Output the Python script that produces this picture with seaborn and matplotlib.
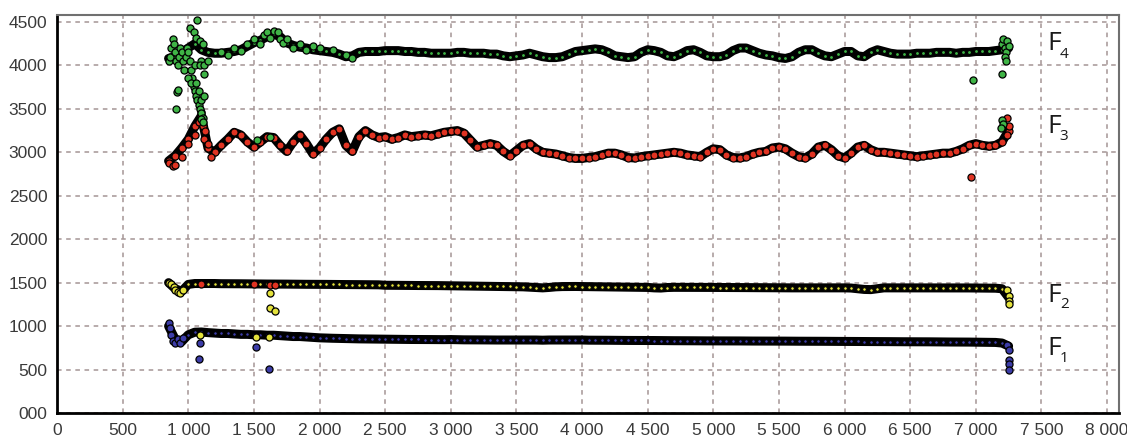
import matplotlib
matplotlib.use("Agg")
import matplotlib.pyplot as plt
from matplotlib.ticker import MultipleLocator, FuncFormatter
import seaborn as sns
import pandas as pd

# ---------------- data ----------------
frame_ms = [850, 900, 950, 1000, 1050, 1100, 1150, 1200, 1250, 1300, 1350, 1400, 1450,
            1500, 1550, 1600, 1650, 1700, 1750, 1800, 1850, 1900, 1950, 2000, 2050, 2100,
            2150, 2200, 2250, 2300, 2350, 2400, 2450, 2500, 2550, 2600, 2650, 2700, 2750,
            2800, 2850, 2900, 2950, 3000, 3050, 3100, 3150, 3200, 3250, 3300, 3350, 3400,
            3450, 3500, 3550, 3600, 3650, 3700, 3750, 3800, 3850, 3900, 3950, 4000, 4050,
            4100, 4150, 4200, 4250, 4300, 4350, 4400, 4450, 4500, 4550, 4600, 4650, 4700,
            4750, 4800, 4850, 4900, 4950, 5000, 5050, 5100, 5150, 5200, 5250, 5300, 5350,
            5400, 5450, 5500, 5550, 5600, 5650, 5700, 5750, 5800, 5850, 5900, 5950, 6000,
            6050, 6100, 6150, 6200, 6250, 6300, 6350, 6400, 6450, 6500, 6550, 6600, 6650,
            6700, 6750, 6800, 6850, 6900, 6950, 7000, 7050, 7100, 7150, 7200, 7250]

f1_track = [1000, 850, 820, 900, 930, 932, 925, 920, 915, 915, 910, 905, 905,
            900, 900, 895, 895, 890, 885, 880, 880, 875, 870, 865, 862, 860,
            858, 857, 855, 853, 852, 851, 850, 850, 848, 848, 847, 846, 846,
            845, 845, 844, 844, 845, 843, 842, 842, 841, 841, 840, 840, 840,
            840, 840, 839, 839, 840, 838, 840, 840, 841, 840, 840, 840, 838,
            838, 837, 837, 836, 836, 835, 835, 835, 835, 834, 833, 833, 832,
            832, 831, 831, 830, 830, 830, 830, 829, 829, 829, 828, 828, 828,
            828, 827, 827, 827, 826, 826, 826, 825, 825, 825, 824, 824, 824,
            823, 823, 822, 822, 822, 821, 821, 820, 820, 820, 819, 819, 819,
            818, 818, 817, 817, 816, 816, 815, 815, 814, 812, 805, 770]

f2_track = [1500, 1430, 1400, 1480, 1490, 1490, 1490, 1490, 1488, 1488, 1487, 1487, 1486,
            1485, 1485, 1484, 1484, 1483, 1483, 1482, 1482, 1481, 1481, 1480, 1480, 1479,
            1479, 1478, 1478, 1477, 1476, 1476, 1475, 1470, 1470, 1469, 1468, 1468, 1467,
            1467, 1466, 1466, 1465, 1465, 1464, 1463, 1462, 1461, 1460, 1459, 1458, 1457,
            1456, 1455, 1452, 1448, 1443, 1440, 1445, 1452, 1455, 1456, 1456, 1455, 1455,
            1454, 1453, 1452, 1451, 1450, 1449, 1448, 1447, 1445, 1440, 1438, 1444, 1446,
            1446, 1446, 1445, 1445, 1445, 1445, 1444, 1444, 1444, 1443, 1443, 1442, 1442,
            1442, 1441, 1441, 1440, 1440, 1440, 1440, 1440, 1440, 1440, 1440, 1440, 1440,
            1438, 1430, 1422, 1420, 1430, 1440, 1440, 1440, 1440, 1440, 1440, 1440, 1440,
            1440, 1440, 1440, 1440, 1440, 1439, 1438, 1438, 1437, 1436, 1430, 1330]

f3_track = [2900, 2960, 3050, 3150, 3300, 3420, 3050, 3000, 3080, 3150, 3230, 3200, 3120,
            3060, 3120, 3180, 3170, 3080, 3010, 3120, 3200, 3100, 2980, 3050, 3150, 3230,
            3270, 3080, 3010, 3180, 3250, 3200, 3170, 3180, 3150, 3170, 3200, 3180, 3190,
            3200, 3190, 3210, 3230, 3240, 3250, 3220, 3140, 3060, 3080, 3100, 3080, 3010,
            2960, 3020, 3080, 3100, 3040, 3000, 2990, 2980, 2960, 2940, 2930, 2930, 2940,
            2950, 2970, 2990, 2990, 2970, 2940, 2935, 2950, 2960, 2970, 2980, 2990, 3000,
            2990, 2970, 2960, 2950, 3000, 3040, 3030, 2970, 2940, 2935, 2950, 2980, 3000,
            3010, 3050, 3060, 3040, 2990, 2950, 2935, 2980, 3060, 3080, 3030, 2960, 2935,
            2990, 3060, 3080, 3030, 3000, 3000, 2990, 2980, 2970, 2960, 2950, 2960, 2970,
            2980, 2990, 2990, 3010, 3040, 3080, 3100, 3080, 3070, 3080, 3120, 3250]

f4_track = [4080, 4100, 4150, 4200, 4250, 4180, 4150, 4140, 4140, 4150, 4160, 4180, 4220,
            4260, 4290, 4330, 4360, 4330, 4260, 4230, 4210, 4200, 4180, 4170, 4160, 4150,
            4130, 4100, 4110, 4150, 4160, 4160, 4160, 4170, 4170, 4170, 4160, 4160, 4150,
            4150, 4140, 4140, 4140, 4140, 4150, 4150, 4140, 4140, 4140, 4130, 4130, 4110,
            4100, 4110, 4120, 4140, 4120, 4100, 4090, 4090, 4100, 4130, 4160, 4170, 4180,
            4190, 4180, 4150, 4110, 4100, 4090, 4100, 4150, 4180, 4170, 4150, 4110, 4100,
            4130, 4170, 4180, 4150, 4110, 4100, 4100, 4120, 4170, 4200, 4200, 4170, 4140,
            4120, 4110, 4090, 4080, 4100, 4150, 4180, 4180, 4140, 4110, 4100, 4130, 4160,
            4160, 4110, 4100, 4150, 4180, 4160, 4140, 4130, 4130, 4130, 4140, 4140, 4140,
            4150, 4150, 4150, 4140, 4150, 4150, 4160, 4160, 4160, 4170, 4180, 4200]

# scattered (deviating) frames, drawn as coloured circles
f1_pts_ms = [850, 860, 870, 880, 900, 920, 940, 960, 1090, 1082, 1517, 1616,
             7240, 7250, 7250, 7252, 7250]
f1_pts_hz = [1040, 980, 900, 830, 810, 850, 800, 860, 806, 621, 760, 506,
             780, 730, 610, 560, 500]

f2_pts_ms = [850, 870, 890, 900, 920, 940, 960, 1620, 1623, 1662, 7240, 7250, 7250, 7255,
             1090, 1517, 1616]
f2_pts_hz = [1500, 1480, 1450, 1420, 1390, 1380, 1420, 1380, 1210, 1175, 1420, 1350, 1290, 1250,
             900, 880, 870]

f3_pts_ms = [850, 880, 900, 950, 1000, 1050, 1080, 1100, 1110, 1120, 1130, 1150, 1170,
             6960, 7240, 7250, 7240, 1100, 1500, 1620, 1660]
f3_pts_hz = [2880, 2840, 2850, 2950, 3100, 3200, 3350, 3460, 3300, 3150, 3250, 3100, 2950,
             2720, 3390, 3300, 3200, 1480, 1480, 1475, 1475]

f4_pts_ms = [850, 860, 870, 880, 890, 900, 910, 920, 930, 940, 950, 960, 970, 980, 990,
             1000, 1010, 1020, 1030, 1040, 1050, 1060, 1070, 1080, 1090, 1100, 1110,
             1000, 1020, 1060, 1080, 1100, 1120, 1120, 1050, 1100, 1070, 1015, 1040,
             1060, 1090, 1110, 915, 910, 925, 1090, 1120, 1150, 1095, 1110,
             1250, 1300, 1350, 1400, 1450, 1500, 1550, 1580, 1600, 1620, 1650, 1680,
             1700, 1720, 1750, 1800, 1850, 1900, 1950, 2000, 2100, 2200, 2250,
             1524, 1623, 7200, 7210, 7220, 7230, 7240, 7250, 7220, 7230, 7200, 6980,
             7200, 7210, 7190]
f4_pts_hz = [4050, 4100, 4200, 4300, 4250, 4150, 4050, 4000, 4100, 4200, 4150, 4050, 3950, 4100, 4200,
             4150, 4050, 3950, 3850, 3750, 3700, 3650, 3600, 3550, 3500, 3450, 3400,
             3850, 3800, 3800, 3700, 3600, 3650, 3900, 4000, 4050, 4520, 4430, 4380,
             4320, 4280, 4250, 3690, 3500, 3720, 4000, 4000, 4050, 3380, 3350,
             4150, 4120, 4200, 4170, 4250, 4300, 4250, 4350, 4380, 4320, 4400, 4380,
             4300, 4260, 4300, 4200, 4250, 4180, 4220, 4200, 4180, 4120, 4090,
             3140, 3175, 4250, 4300, 4200, 4150, 4280, 4220, 4100, 4050, 3900, 3830,
             3370, 3320, 3280]

formant_labels = ["1", "2", "3", "4"]
x_ticks = [0, 500, 1000, 1500, 2000, 2500, 3000, 3500, 4000, 4500, 5000, 5500,
           6000, 6500, 7000, 7500, 8000]
y_ticks = [0, 500, 1000, 1500, 2000, 2500, 3000, 3500, 4000, 4500]

# ---------------- styling ----------------
sns.set_style("white")
plt.rcParams["font.family"] = ["Liberation Sans", "DejaVu Sans"]

colors = {"1": "#3c3ca8", "2": "#e4e23c", "3": "#e03322", "4": "#3fb446"}
track_sizes = {"1": 7, "2": 7, "3": 26, "4": 8}
label_pos = {"4": (4177, 4085), "3": (3222, 3142), "2": (1277, 1208), "1": (667, 587)}

fig = plt.figure(figsize=(11.27, 4.41), dpi=100)
ax = fig.add_axes([57 / 1127, 28 / 441, (1119 - 57) / 1127, (413 - 15) / 441])

tracks = {"1": f1_track, "2": f2_track, "3": f3_track, "4": f4_track}
pts = {"1": (f1_pts_ms, f1_pts_hz), "2": (f2_pts_ms, f2_pts_hz),
       "3": (f3_pts_ms, f3_pts_hz), "4": (f4_pts_ms, f4_pts_hz)}

for k in formant_labels:
    df = pd.DataFrame({"ms": frame_ms, "hz": tracks[k]})
    sns.lineplot(data=df, x="ms", y="hz", ax=ax, color="black", linewidth=6.5,
                 estimator=None, errorbar=None, zorder=3, solid_capstyle="round")
    sns.scatterplot(data=df, x="ms", y="hz", ax=ax, color=colors[k],
                    edgecolor="black", linewidth=0.8, s=track_sizes[k], zorder=4)

for k in formant_labels:
    dfp = pd.DataFrame({"ms": pts[k][0], "hz": pts[k][1]})
    sns.scatterplot(data=dfp, x="ms", y="hz", ax=ax, color=colors[k],
                    edgecolor="black", linewidth=0.9, s=26, zorder=5)

ax.set_xlim(0, 8091)
ax.set_ylim(0, 4580)
ax.set_xlabel("")
ax.set_ylabel("")

ax.set_xticks(x_ticks)
ax.set_yticks(y_ticks)
ax.xaxis.set_minor_locator(MultipleLocator(100))
ax.yaxis.set_minor_locator(MultipleLocator(100))
ax.xaxis.set_major_formatter(FuncFormatter(lambda v, p: f"{int(v):,}".replace(",", " ")))
ax.yaxis.set_major_formatter(FuncFormatter(lambda v, p: "000" if v == 0 else f"{int(v)}"))

ax.tick_params(axis="both", which="major", direction="out", length=5, width=1.2,
               color="black", labelsize=12.5, labelcolor="#3a3a3a", pad=2)
ax.tick_params(axis="both", which="minor", direction="inout", length=4, width=0.9,
               color="black")

ax.grid(True, which="major", linestyle=(0, (3, 3)), color="#a49494", linewidth=1.1, zorder=0)
ax.set_axisbelow(True)

for side in ["left", "bottom"]:
    ax.spines[side].set_visible(True)
    ax.spines[side].set_color("black")
    ax.spines[side].set_linewidth(2.0)
for side in ["top", "right"]:
    ax.spines[side].set_visible(True)
    ax.spines[side].set_color("#707070")
    ax.spines[side].set_linewidth(1.5)

for k in formant_labels:
    yb, ys = label_pos[k]
    ax.text(7546, yb, "F", fontsize=19, family=["Open Sans", "DejaVu Sans"],
            color="#1a1a1a", va="baseline", ha="left", zorder=6)
    ax.text(7640, ys, k, fontsize=11, family=["Open Sans", "DejaVu Sans"],
            color="#1a1a1a", va="baseline", ha="left", zorder=6)

fig.savefig("out.png", dpi=100)
